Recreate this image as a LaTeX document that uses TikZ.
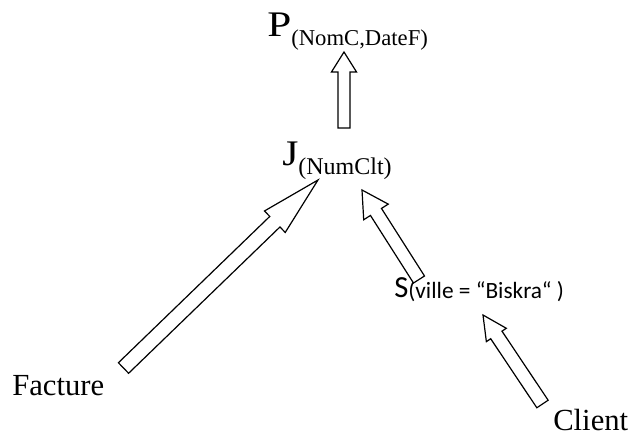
\documentclass[tikz,border=0pt]{standalone}
\usepackage{fontspec}
\setmainfont{Liberation Serif}
\newfontfamily\calfont{Carlito}
\usetikzlibrary{calc}

\tikzset{
  lbl/.style={inner sep=0pt, anchor=base west},
  blk/.style={draw=black, line width=0.9pt, fill=white, line join=miter}
}

% hollow block arrow: #1 name, #2 tail, #3 tip, #4 shaft half-width,
% #5 head half-width, #6 head length
\newcommand{\blockarrow}[6]{%
  \coordinate (#1h) at ($(#3)!#6!(#2)$);
  \draw[blk] ($(#2)!#4!90:(#3)$) -- ($(#1h)!#4!90:(#3)$) -- ($(#1h)!#5!90:(#3)$)
    -- (#3) -- ($(#1h)!#5!-90:(#3)$) -- ($(#1h)!#4!-90:(#3)$)
    -- ($(#2)!#4!-90:(#3)$) -- cycle;
}

\begin{document}
\begin{tikzpicture}[x=0.75pt, y=-0.75pt]
\useasboundingbox (0,0) rectangle (633,437);

% operator labels
\node[lbl] (P) at (267,36) {\fontsize{27pt}{27pt}\selectfont\scalebox{1.2}[1]{P}\raisebox{-7pt}{\fontsize{17pt}{17pt}\selectfont(NomC,DateF)}};
\node[lbl] (J) at (282,165) {\fontsize{27pt}{27pt}\selectfont\scalebox{1.15}[1]{J}\raisebox{-7pt}{\fontsize{18pt}{18pt}\selectfont(NumClt)}};
\node[lbl] (S) at (394,297) {\calfont\fontsize{23pt}{23pt}\selectfont S\raisebox{-1pt}{\fontsize{17.5pt}{17.5pt}\selectfont(ville = “Biskra“ )}};
\node[lbl] (facture) at (12,395) {\fontsize{23pt}{23pt}\selectfont Facture};
\node[lbl] (client) at (553,430) {\fontsize{23pt}{23pt}\selectfont Client};

% arrow end points
\coordinate (jp0) at (344,128);
\coordinate (jp1) at (344,52);
\coordinate (fj0) at (123.5,368);
\coordinate (fj1) at (318,180);
\coordinate (sj0) at (419,279.5);
\coordinate (sj1) at (362,190);
\coordinate (cs0) at (542.5,404);
\coordinate (cs1) at (483,315);

\blockarrow{jp}{jp0}{jp1}{4.5pt}{9.4pt}{15pt}
\blockarrow{fj}{fj0}{fj1}{5.5pt}{11.2pt}{45pt}
\blockarrow{sj}{sj0}{sj1}{4.9pt}{10.9pt}{19.5pt}
\blockarrow{cs}{cs0}{cs1}{5.1pt}{9pt}{18pt}
\end{tikzpicture}
\end{document}
